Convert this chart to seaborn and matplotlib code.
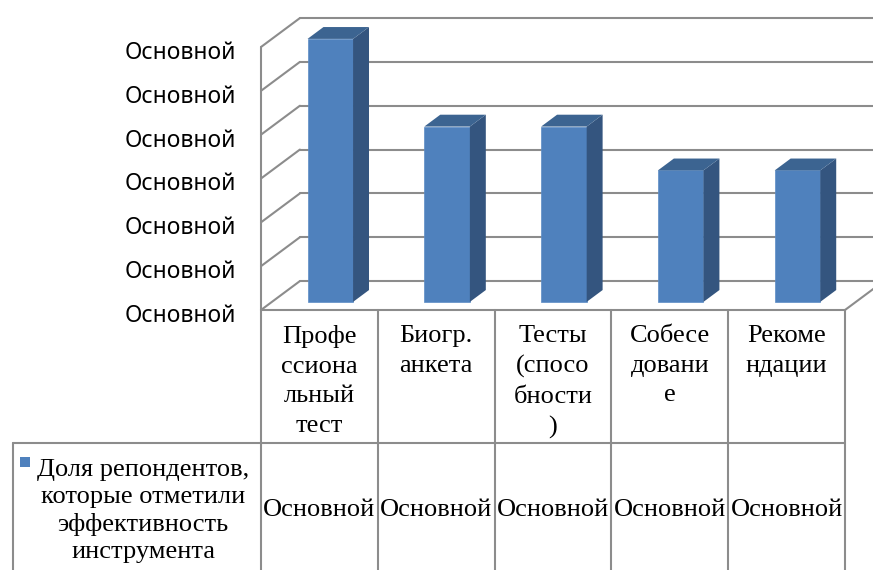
import matplotlib
matplotlib.use("Agg")
import matplotlib.pyplot as plt
import matplotlib.transforms as mtransforms
from matplotlib.patches import Polygon, Rectangle
from matplotlib.lines import Line2D
import seaborn as sns
import pandas as pd

# Data
categories = ["Профессиональный тест", "Биогр. анкета", "Тесты (способности)",
              "Собеседование", "Рекомендации"]
header_labels = ["Профе\nссиона\nльный\nтест", "Биогр.\nанкета",
                 "Тесты\n(спосо\nбности\n)", "Собесе\nдовани\nе", "Рекоме\nндации"]
values = [6, 4, 4, 3, 3]
value_labels = ["Основной"] * 5
y_ticks = [0, 1, 2, 3, 4, 5, 6]
y_tick_labels = ["Основной"] * 7
series_name = "Доля репондентов,\nкоторые отметили\nэффективность\nинструмента"

sns.set_theme(style="white")
plt.rcParams["font.family"] = ["Noto Sans", "DejaVu Sans"]

W, H = 873, 570
fig = plt.figure(figsize=(W / 100, H / 100), dpi=100)
fig.patch.set_facecolor("white")

# front plane of the 3-D box (pixel geometry)
left_px, right_px, bottom_px, top_px = 261, 845, 310, 47
ax = fig.add_axes([left_px / W, 1 - bottom_px / H,
                   (right_px - left_px) / W, (bottom_px - top_px) / H])
ax.set_facecolor("none")

df = pd.DataFrame({"cat": categories, "val": values})
FRONT = "#4F81BD"
SIDE = "#34557F"
TOP = "#3C6491"
sns.barplot(data=df, x="cat", y="val", ax=ax, color=FRONT, width=0.39,
            saturation=1, edgecolor="#5C8CC6", linewidth=0.5, zorder=3)

ax.set_xlim(-0.5, 4.5)
ax.set_ylim(0, 6)

# depth of the box in data units and where the bars sit inside it
DX, DY = 0.333, 0.66
f0, fd = 0.28, 0.41
GRID = "#8C8C8C"
LW = 1.5

# back wall gridlines, side wall diagonals
for v in y_ticks:
    ax.add_line(Line2D([-0.5 + DX, 4.5 + DX + 0.5], [v + DY, v + DY],
                       color=GRID, lw=LW, clip_on=False, zorder=1))
    ax.add_line(Line2D([-0.5, -0.5 + DX], [v, v + DY],
                       color=GRID, lw=LW, clip_on=False, zorder=1))
ax.add_line(Line2D([-0.5, -0.5], [0, y_ticks[-1]], color=GRID, lw=LW,
                   clip_on=False, zorder=1))
# floor right edge
ax.add_line(Line2D([4.5, 4.5 + DX], [0, DY], color=GRID, lw=LW,
                   clip_on=False, zorder=1))

# turn the flat bars into boxes
for p in ax.patches[:len(values)]:
    x0 = p.get_x() + f0 * DX
    y0 = f0 * DY
    w = p.get_width()
    h = p.get_height()
    p.set_x(x0)
    p.set_y(y0)
    x1, y1 = x0 + w, y0 + h
    side = Polygon([(x1, y0), (x1, y1), (x1 + fd * DX, y1 + fd * DY),
                    (x1 + fd * DX, y0 + fd * DY)], closed=True,
                   facecolor=SIDE, edgecolor="none", zorder=3, clip_on=False)
    top = Polygon([(x0, y1), (x1, y1), (x1 + fd * DX, y1 + fd * DY),
                   (x0 + fd * DX, y1 + fd * DY)], closed=True,
                  facecolor=TOP, edgecolor="none", zorder=3, clip_on=False)
    ax.add_patch(side)
    ax.add_patch(top)
    p.set_clip_on(False)

for s in ax.spines.values():
    s.set_visible(False)
ax.set_xlabel("")
ax.set_ylabel("")
ax.set_xticks([])
ax.set_yticks(y_ticks)
ax.set_yticklabels(y_tick_labels, fontsize=16.5, color="black")
ax.tick_params(axis="y", length=0, pad=18)
shift = mtransforms.ScaledTranslation(0, -3 / 100, fig.dpi_scale_trans)
for lbl in ax.get_yticklabels():
    lbl.set_transform(lbl.get_transform() + shift)

# data table under the plot
tr = mtransforms.blended_transform_factory(ax.transData, fig.transFigure)
def fy(py):
    return 1 - py / H

col_edges = [i - 0.5 for i in range(len(categories) + 1)]
row_split = 443
table_left_px = 13
serif = ["Liberation Serif", "DejaVu Serif"]
TFS = 19

fig.add_artist(Line2D([col_edges[0], col_edges[-1]], [fy(bottom_px)] * 2,
                      transform=tr, color=GRID, lw=LW))
for xe in col_edges:
    fig.add_artist(Line2D([xe, xe], [fy(bottom_px), fy(H + 5)],
                          transform=tr, color=GRID, lw=LW))
fig.add_artist(Line2D([table_left_px / W, right_px / W], [fy(row_split)] * 2,
                      transform=fig.transFigure, color=GRID, lw=LW))
fig.add_artist(Line2D([table_left_px / W] * 2, [fy(row_split), fy(H + 5)],
                      transform=fig.transFigure, color=GRID, lw=LW))

for i, lab in enumerate(header_labels):
    fig.text(i, fy(325), lab, transform=tr, ha="center", va="top",
             multialignment="center", fontsize=TFS, family=serif,
             linespacing=1.45, color="black")
for i, lab in enumerate(value_labels):
    fig.text(i, fy(510), lab, transform=tr, ha="center", va="center",
             fontsize=TFS, family=serif, color="black")

fig.add_artist(Rectangle((20 / W, fy(467)), 10 / W, 10 / H,
                         transform=fig.transFigure, facecolor=FRONT,
                         edgecolor="none"))
fig.text(143 / W, fy(511), series_name, ha="center", va="center",
         multialignment="center", fontsize=TFS, family=serif,
         linespacing=1.3, color="black")

fig.savefig("out.png", dpi=100, facecolor="white")
